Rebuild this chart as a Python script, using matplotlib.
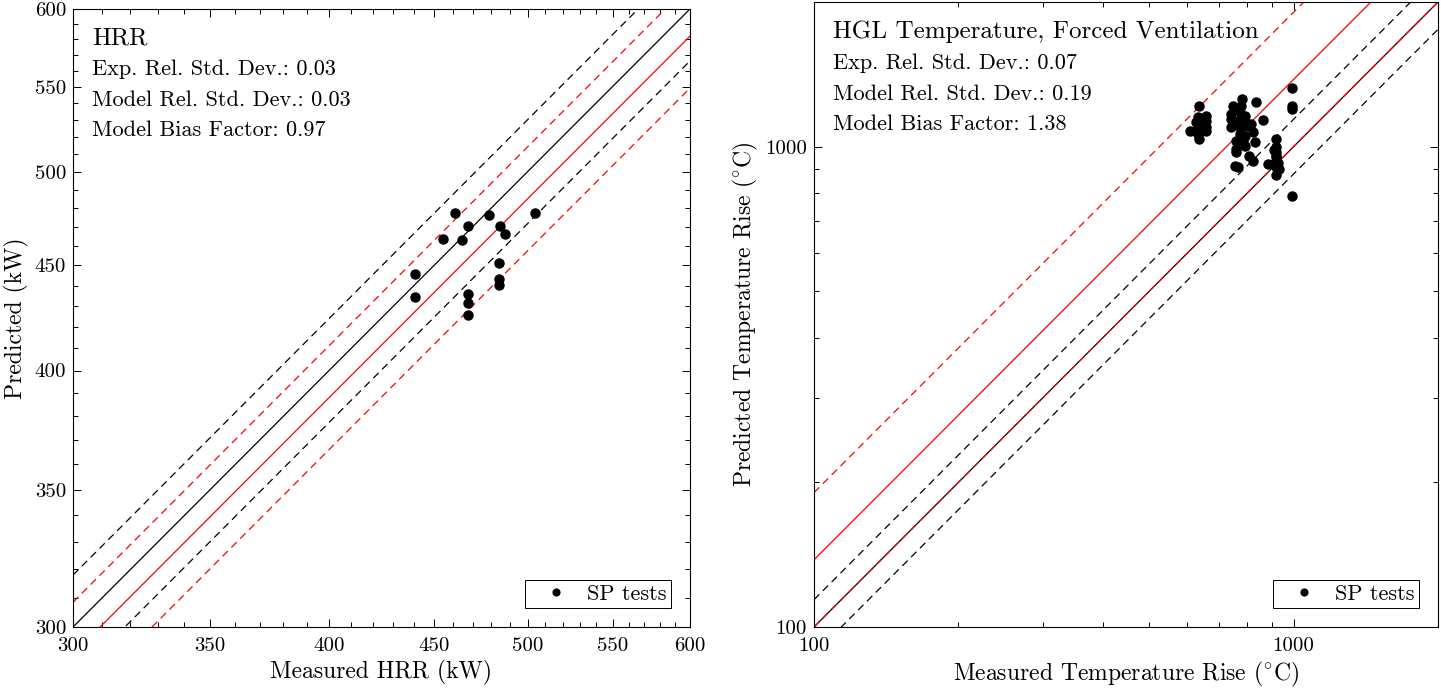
import numpy as np
import matplotlib
matplotlib.use('Agg')
import matplotlib.pyplot as plt
from matplotlib.ticker import FixedLocator, NullFormatter, FixedFormatter

plt.rcParams['font.family'] = 'serif'
plt.rcParams['font.serif'] = ['cmr10', 'DejaVu Serif']
plt.rcParams['mathtext.fontset'] = 'cm'
plt.rcParams['axes.formatter.use_mathtext'] = True

# ---- HRR data (kW)
hrr_meas = [440.7, 440.7, 460.8, 478.9, 504.2, 467.3, 484.8, 487.6,
            454.4, 464.4, 484.3, 484.3, 484.3, 467.5, 467.5, 467.5]
hrr_pred = [445.6, 434.2, 477.5, 476.0, 477.3, 470.4, 470.6, 466.0,
            463.8, 463.2, 451.5, 443.2, 440.5, 435.6, 431.3, 425.6]
hrr_stats = dict(sig_e=0.03, sig_m=0.03, bias=0.97)
hrr_lim = [300, 600]
hrr_ticks = [300, 350, 400, 450, 500, 550, 600]

# ---- HGL temperature data (deg C rise)
hgl_meas = [635, 632, 658, 658, 627, 642, 658, 608, 622, 642, 658, 632, 635,
            781, 747, 778, 835, 741, 772, 790, 741, 765, 790, 865, 741, 772,
            796, 816, 772, 790, 822, 759, 784, 829, 759, 790, 759, 809, 822,
            753, 765,
            919, 919, 919, 919, 883, 904, 926, 934, 919, 919, 919, 912,
            992, 992, 992, 992]
hgl_pred = [1215, 1154, 1160, 1133, 1124, 1115, 1101, 1076, 1076, 1083, 1080, 1063, 1038,
            1257, 1217, 1217, 1241, 1169, 1179, 1160, 1142, 1133, 1124, 1137, 1097, 1097,
            1106, 1115, 1063, 1054, 1071, 1029, 1029, 1021, 989, 1005, 973, 958, 935,
            913, 906,
            1038, 997, 973, 950, 920, 920, 925, 899, 906, 871, 960, 985,
            1322, 1217, 1198, 788]
hgl_stats = dict(sig_e=0.07, sig_m=0.19, bias=1.38)
hgl_lim = [100, 2000]


def draw_panel(ax, meas, pred, st, lim, title):
    x = np.array(lim, dtype=float)
    e = 1 + 2 * st['sig_e']
    m = 1 + 2 * st['sig_m']
    d = st['bias']
    dash = (6, 4)
    ax.plot(x, x, 'k-', lw=0.9)
    ax.plot(x, x * e, 'k--', lw=0.9, dashes=dash)
    ax.plot(x, x / e, 'k--', lw=0.9, dashes=dash)
    ax.plot(x, d * x, 'r-', lw=0.9)
    ax.plot(x, d * x * m, 'r--', lw=0.9, dashes=dash)
    ax.plot(x, d * x / m, 'r--', lw=0.9, dashes=dash)
    ax.plot(meas, pred, 'ko', ms=6.5, ls='none', label='SP tests')
    ax.set_xscale('log')
    ax.set_yscale('log')
    ax.set_xlim(lim)
    ax.set_ylim(lim)
    ax.tick_params(which='both', direction='in', top=True, right=True,
                   labelsize=15, width=0.7)
    ax.tick_params(axis='x', which='major', pad=7)
    ax.tick_params(axis='y', which='major', pad=5)
    ax.tick_params(which='major', length=6)
    ax.tick_params(which='minor', length=3.5)
    for s in ax.spines.values():
        s.set_linewidth(0.8)
    ax.text(0.031, 0.952, title, transform=ax.transAxes, fontsize=18, va='center')
    lines = ['Exp. Rel. Std. Dev.: %.2f' % st['sig_e'],
             'Model Rel. Std. Dev.: %.2f' % st['sig_m'],
             'Model Bias Factor: %.2f' % st['bias']]
    for i, s in enumerate(lines):
        ax.text(0.031, 0.902 - 0.049 * i, s, transform=ax.transAxes,
                fontsize=16, va='center')
    leg = ax.legend(loc='lower right', fontsize=16, fancybox=False,
                    edgecolor='black', framealpha=1, handletextpad=0.2,
                    borderpad=0.2, borderaxespad=0.85, handlelength=2.4,
                    markerscale=0.75)
    leg.get_frame().set_linewidth(0.7)


fig = plt.figure(figsize=(14.41, 6.88), dpi=100)
ax1 = fig.add_axes([73 / 1441, 61 / 688, 617 / 1441, 618 / 688])
ax2 = fig.add_axes([814 / 1441, 61 / 688, 624 / 1441, 625 / 688])

draw_panel(ax1, hrr_meas, hrr_pred, hrr_stats, hrr_lim, 'HRR')
minors = [v for v in range(310, 600, 10) if v not in hrr_ticks]
for axis in (ax1.xaxis, ax1.yaxis):
    axis.set_major_locator(FixedLocator(hrr_ticks))
    axis.set_major_formatter(FixedFormatter([str(t) for t in hrr_ticks]))
    axis.set_minor_locator(FixedLocator(minors))
    axis.set_minor_formatter(NullFormatter())
ax1.set_xlabel('Measured HRR (kW)', fontsize=17)
ax1.set_ylabel('Predicted (kW)', fontsize=17)

draw_panel(ax2, hgl_meas, hgl_pred, hgl_stats, hgl_lim,
           'HGL Temperature, Forced Ventilation')
for axis in (ax2.xaxis, ax2.yaxis):
    axis.set_major_locator(FixedLocator([100, 1000]))
    axis.set_major_formatter(FixedFormatter(['100', '1000']))
    axis.set_minor_locator(FixedLocator([200, 300, 400, 500, 600, 700, 800, 900]))
    axis.set_minor_formatter(NullFormatter())
ax2.set_xlabel(r'Measured Temperature Rise $(^{\circ}\mathrm{C})$', fontsize=17)
ax2.set_ylabel(r'Predicted Temperature Rise $(^{\circ}\mathrm{C})$', fontsize=17)

fig.savefig('out.png', dpi=100)
